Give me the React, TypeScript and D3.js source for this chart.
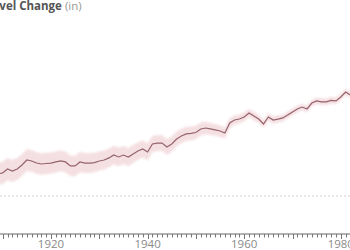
import React from "react";
import * as d3 from "d3";

const years: number[] = d3.range(1909, 1983);
const seaLevel: number[] = [
  1.38, 1.44, 1.69, 1.56, 1.69, 1.94, 2.25, 2.19, 2.06, 2.0, 2.03,
  2.06, 2.13, 2.19, 2.13, 1.88, 1.88, 2.13, 2.06, 2.06, 2.09,
  2.19, 2.25, 2.38, 2.56, 2.44, 2.56, 2.44, 2.63, 2.81, 2.94,
  2.75, 3.25, 3.31, 3.31, 3.06, 3.25, 3.56, 3.75, 3.88, 3.91,
  3.97, 4.19, 4.25, 4.19, 4.13, 4.06, 3.94, 4.56, 4.75, 4.81,
  4.94, 5.19, 5.0, 4.81, 4.5, 4.94, 4.75, 4.81, 4.88, 5.06,
  5.25, 5.44, 5.56, 5.44, 5.81, 5.94, 5.88, 5.88, 5.97, 5.94,
  6.19, 6.5, 6.31,
];
const uncertainty: number[] = [
  0.7, 0.7, 0.69, 0.69, 0.69, 0.68, 0.68, 0.68, 0.67, 0.67, 0.67,
  0.66, 0.66, 0.65, 0.65, 0.64, 0.64, 0.63, 0.62, 0.62, 0.61,
  0.6, 0.6, 0.59, 0.58, 0.58, 0.57, 0.56, 0.56, 0.55, 0.54,
  0.53, 0.52, 0.51, 0.5, 0.49, 0.48, 0.47, 0.46, 0.45, 0.44,
  0.43, 0.41, 0.4, 0.38, 0.37, 0.35, 0.34, 0.32, 0.3, 0.29,
  0.28, 0.27, 0.26, 0.25, 0.24, 0.24, 0.23, 0.23, 0.22, 0.22,
  0.22, 0.22, 0.21, 0.21, 0.21, 0.21, 0.21, 0.21, 0.21, 0.21,
  0.21, 0.21, 0.21,
];
const tickLabels: number[] = [1920, 1940, 1960, 1980];
const titleMain = "Sea Level Change";
const titleUnit = "(in)";

export default function App() {
  const W = 350;
  const H = 250;
  const x = d3.scaleLinear().domain([1920, 1980]).range([51, 340.8]);
  const y = d3.scaleLinear().domain([0, 10]).range([196, 36]);
  const axisY = 234;

  const data = years.map((yr, i) => ({ yr, v: seaLevel[i], e: uncertainty[i] }));
  const line = d3
    .line<{ yr: number; v: number }>()
    .x((d) => x(d.yr))
    .y((d) => y(d.v));
  const area = d3
    .area<{ yr: number; v: number; e: number }>()
    .x((d) => x(d.yr))
    .y0((d) => y(d.v - d.e))
    .y1((d) => y(d.v + d.e));

  const minorTicks = d3.range(1909, 1983);

  return (
    <svg
      width={W}
      height={H}
      style={{ position: "absolute", left: 0, top: 0, background: "#fff" }}
      fontFamily="'Open Sans', sans-serif"
    >
      <defs>
        <filter id="soft" x="-5%" y="-20%" width="110%" height="140%">
          <feGaussianBlur stdDeviation="1" />
        </filter>
      </defs>
      <rect width={W} height={H} fill="#fff" />
      <text x={-37} y={10} fontSize={11.5}>
        <tspan fontWeight="bold" fill="#555">{titleMain}</tspan>
        <tspan fill="#999"> {titleUnit}</tspan>
      </text>
      <line
        x1={0}
        x2={W}
        y1={y(0)}
        y2={y(0)}
        stroke="#d0d0d0"
        strokeWidth={1}
        strokeDasharray="2,2"
      />
      <path d={area(data) || ""} fill="#f3dadd" opacity={0.85} filter="url(#soft)" />
      <path d={line(data) || ""} fill="none" stroke="#96646c" strokeWidth={1.2} />
      <line x1={0} x2={W} y1={axisY} y2={axisY} stroke="#666" strokeWidth={1} />
      {minorTicks.map((t) => (
        <line
          key={t}
          x1={Math.round(x(t)) + 0.5}
          x2={Math.round(x(t)) + 0.5}
          y1={axisY}
          y2={axisY + (t % 10 === 0 ? 5 : 3.5)}
          stroke="#777"
          strokeWidth={1}
        />
      ))}
      {tickLabels.map((t) => (
        <text
          key={t}
          x={x(t)}
          y={247.5}
          fontSize={11.5}
          fill="#8a8a8a"
          textAnchor="middle"
        >
          {t}
        </text>
      ))}
    </svg>
  );
}
